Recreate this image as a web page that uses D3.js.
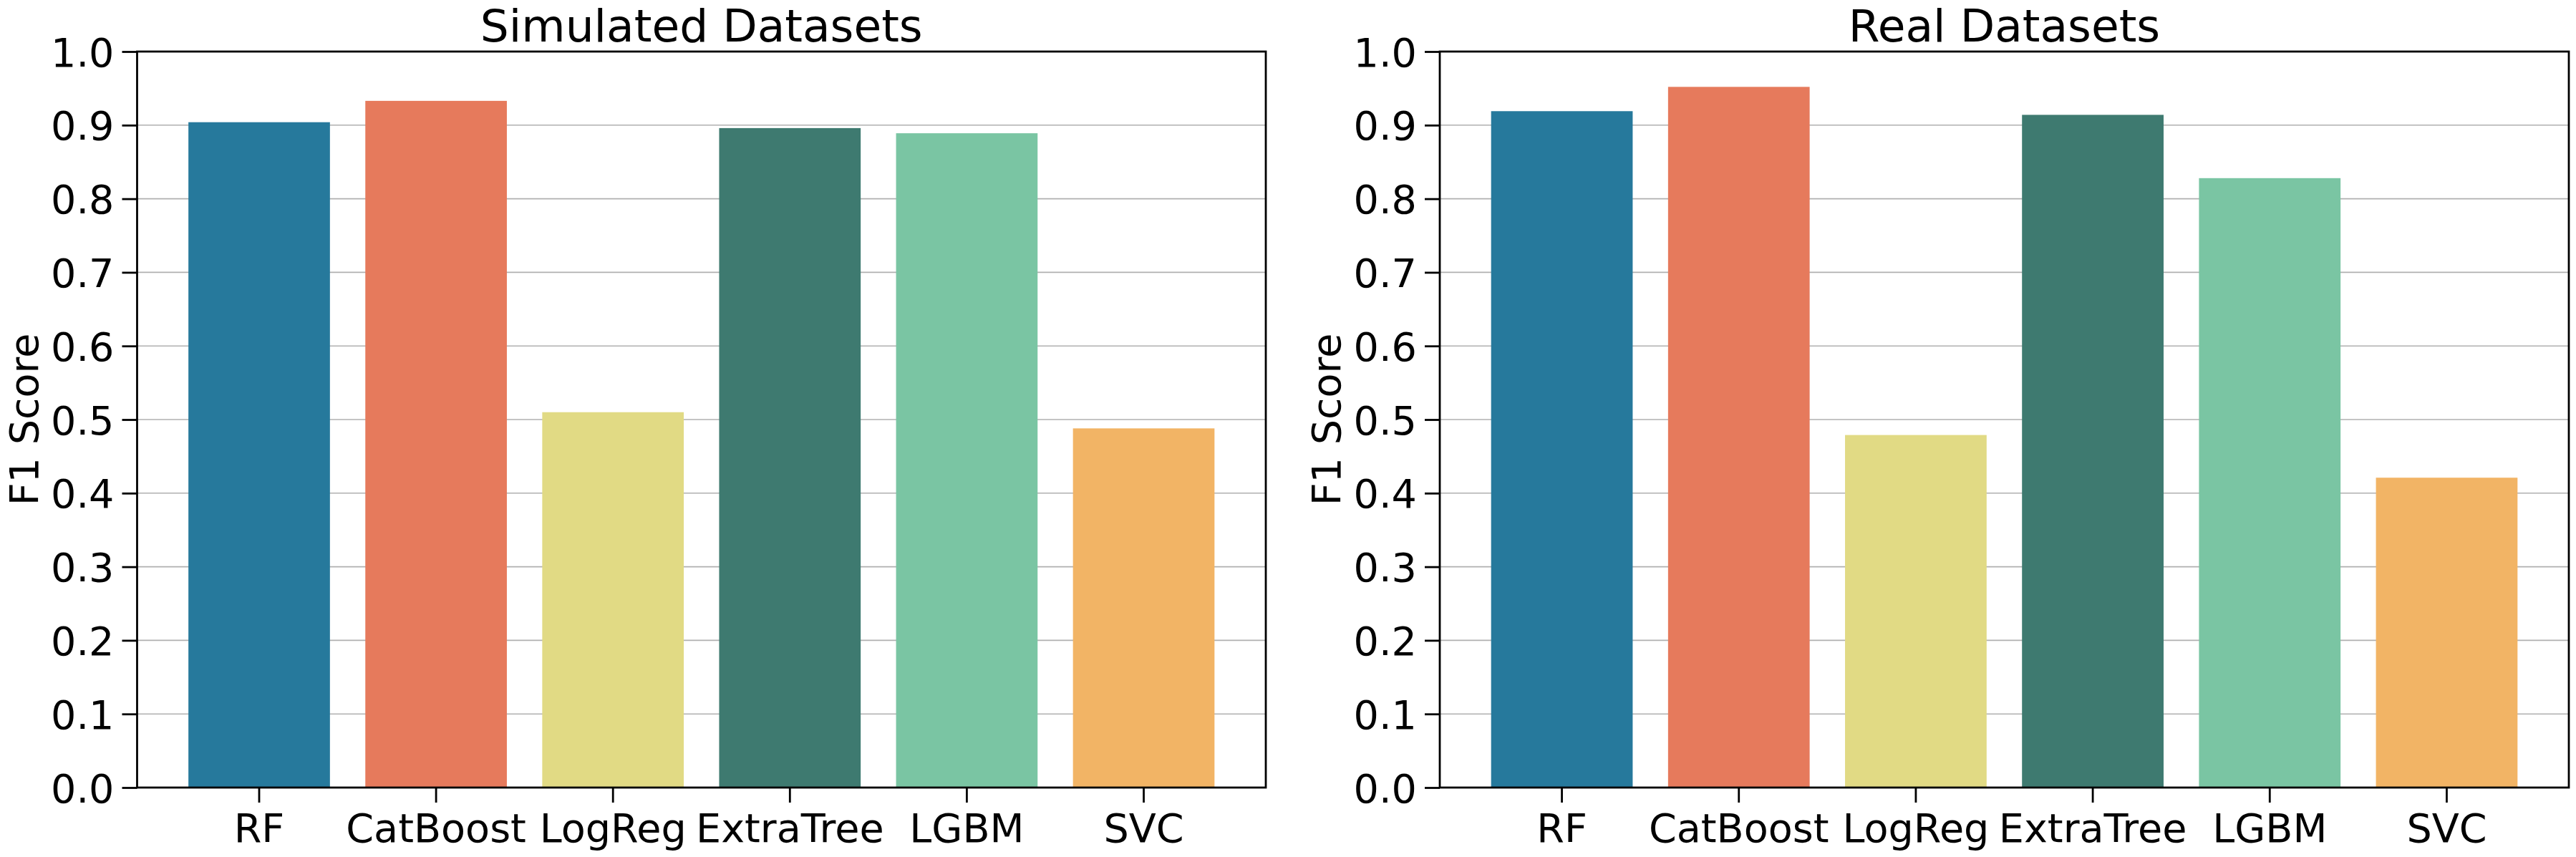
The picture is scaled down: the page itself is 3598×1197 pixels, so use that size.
<!DOCTYPE html>
<html>
<head>
<meta charset="utf-8">
<script src="https://cdn.jsdelivr.net/npm/d3@7"></script>
<style>
  html, body { margin: 0; padding: 0; background: #fff; }
  svg { display: block; }
  text { font-family: "DejaVu Sans", sans-serif; fill: #000; }
</style>
</head>
<body>
<svg id="chart" width="3598" height="1197"></svg>
<script>
const categories = ["RF", "CatBoost", "LogReg", "ExtraTree", "LGBM", "SVC"];
const simulatedValues = [0.904, 0.933, 0.510, 0.896, 0.889, 0.488];
const realValues = [0.919, 0.952, 0.479, 0.914, 0.828, 0.421];
const barColors = ["#26799c", "#e67a5c", "#e1da84", "#3e7a70", "#7ac5a3", "#f2b465"];
const yTicks = [0.0, 0.1, 0.2, 0.3, 0.4, 0.5, 0.6, 0.7, 0.8, 0.9, 1.0];
const panelTitles = ["Simulated Datasets", "Real Datasets"];
const yLabel = "F1 Score";

(function () {
const svg = d3.select("#chart");
const panels = [
  { title: panelTitles[0], values: simulatedValues, x0: 191.5, x1: 1768 },
  { title: panelTitles[1], values: realValues, x0: 2011, x1: 3588 }
];
const plotTop = 72, plotBottom = 1100;
const tickFont = 55.6, titleFont = 63;

panels.forEach(p => {
  const g = svg.append("g");
  const x = d3.scaleBand().domain(categories).range([p.x0, p.x1])
    .paddingInner(0.2).paddingOuter(0.29);
  const y = d3.scaleLinear().domain([0, 1]).range([plotBottom, plotTop]);

  // grid
  g.append("g").selectAll("line").data(yTicks).join("line")
    .attr("x1", p.x0).attr("x2", p.x1)
    .attr("y1", d => y(d)).attr("y2", d => y(d))
    .attr("stroke", "#b0b0b0").attr("stroke-width", 1.6);

  // bars
  g.append("g").selectAll("rect").data(p.values).join("rect")
    .attr("x", (d, i) => x(categories[i]))
    .attr("width", x.bandwidth())
    .attr("y", d => y(d))
    .attr("height", d => y(0) - y(d))
    .attr("fill", (d, i) => barColors[i]);

  // y axis
  const ya = g.append("g").attr("transform", `translate(${p.x0},0)`)
    .call(d3.axisLeft(y).tickValues(yTicks).tickFormat(d3.format(".1f"))
      .tickSize(21).tickPadding(11));
  ya.select(".domain").remove();
  ya.selectAll(".tick line").attr("stroke", "#000").attr("stroke-width", 2.8);
  ya.selectAll(".tick text").attr("font-size", tickFont)
    .attr("font-family", "DejaVu Sans").attr("fill", "#000").attr("dy", "0.36em");

  // x axis
  const xa = g.append("g").attr("transform", `translate(0,${plotBottom})`)
    .call(d3.axisBottom(x).tickSize(21).tickPadding(14));
  xa.select(".domain").remove();
  xa.selectAll(".tick line").attr("stroke", "#000").attr("stroke-width", 2.8);
  xa.selectAll(".tick text").attr("font-size", tickFont)
    .attr("font-family", "DejaVu Sans").attr("fill", "#000").attr("dy", "0.73em");

  // frame
  g.append("rect").attr("x", p.x0).attr("y", plotTop)
    .attr("width", p.x1 - p.x0).attr("height", plotBottom - plotTop)
    .attr("fill", "none").attr("stroke", "#000").attr("stroke-width", 2.8);

  // title
  g.append("text").attr("x", (p.x0 + p.x1) / 2).attr("y", 58)
    .attr("text-anchor", "middle").attr("font-size", titleFont)
    .text(p.title);

  // y label
  g.append("text")
    .attr("transform", `translate(${p.x0 - 139},${(plotTop + plotBottom) / 2}) rotate(-90)`)
    .attr("text-anchor", "middle").attr("font-size", tickFont)
    .text(yLabel);
});
})();
</script>
</body>
</html>
